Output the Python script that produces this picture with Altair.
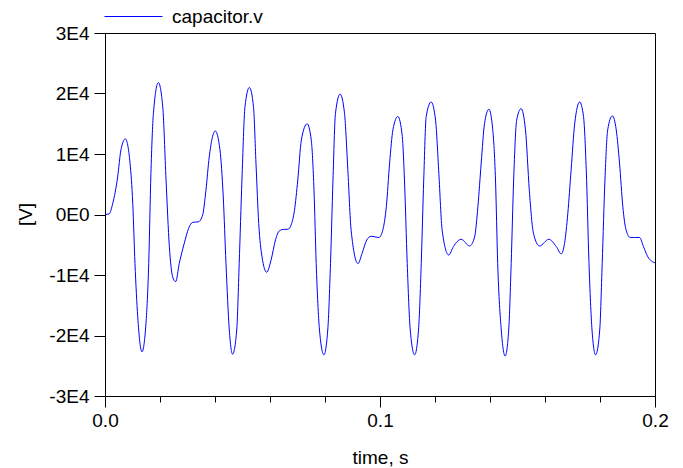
import altair as alt
import pandas as pd

time_s = [
    0.0000, 0.0015, 0.0028, 0.0046, 0.0058, 0.0074, 0.0091, 0.0101, 0.0109, 0.0119,
    0.01345, 0.0149, 0.0159, 0.0167, 0.0176, 0.0194, 0.0210, 0.0222, 0.0234, 0.0246,
    0.0257, 0.0270, 0.0288, 0.0304, 0.0319, 0.0340, 0.0355, 0.0367, 0.0379, 0.0401,
    0.0418, 0.0430, 0.0440, 0.0452, 0.0464, 0.0479, 0.0488, 0.0498, 0.0509, 0.0525,
    0.0540, 0.0549, 0.0559, 0.0571, 0.0588, 0.0604, 0.0620, 0.0634, 0.0652, 0.0665,
    0.0677, 0.0689, 0.0701, 0.0714, 0.0735, 0.0750, 0.0760, 0.0768, 0.0780, 0.0796,
    0.0810, 0.0820, 0.0829, 0.0838, 0.0855, 0.0871, 0.0883, 0.0895, 0.0920, 0.0935,
    0.0952, 0.0968, 0.0996, 0.1010, 0.1023, 0.1035, 0.1047, 0.1065, 0.1081, 0.1089,
    0.1099, 0.1110, 0.1126, 0.1140, 0.1150, 0.1159, 0.1168, 0.1186, 0.1202, 0.1214,
    0.1226, 0.1250, 0.1267, 0.1295, 0.1326, 0.1344, 0.1356, 0.1368, 0.1380, 0.1396,
    0.1410, 0.1420, 0.1428, 0.1441, 0.1455, 0.1468, 0.1477, 0.1486, 0.1497, 0.1513,
    0.1529, 0.1543, 0.1558, 0.1580, 0.1614, 0.1641, 0.1659, 0.1671, 0.1683, 0.1695,
    0.1708, 0.1726, 0.1740, 0.1750, 0.1760, 0.1771, 0.1784, 0.1799, 0.1808, 0.1818,
    0.1828, 0.1845, 0.1859, 0.1871, 0.1883, 0.1895, 0.1910, 0.1925, 0.1944, 0.1958,
    0.1974, 0.2000,
]

capacitor_v = [
    0, 100, 1800, 6200, 10700, 12500, 8500, 1800, -8100, -16900,
    -22700, -18000, -8100, 6800, 16700, 21800, 17800, 5700, -5300, -10300,
    -11100, -8100, -4800, -2300, -1300, -1200, -100, 4000, 9500, 13800,
    10700, 2900, -8100, -19100, -23100, -19100, -8100, 5700, 17800, 21000,
    17800, 8500, -1500, -7000, -9550, -7500, -4200, -2700, -2450, -2450,
    -1700, 700, 5700, 12300, 15000, 12300, 4000, -8100, -19100, -23200,
    -19100, -8100, 5700, 16700, 19900, 16700, 7400, -2600, -8100, -6400,
    -4200, -3600, -3800, -2600, 1300, 8500, 14000, 16200, 12900, 5700,
    -8100, -19100, -23200, -19100, -8100, 5700, 16200, 18600, 15600, 6800,
    -2600, -6700, -5300, -4100, -5200, -3700, 1300, 8500, 15000, 17400,
    14000, 5700, -8100, -19100, -23400, -19100, -8100, 5700, 15600, 17500,
    14000, 4000, -3100, -5200, -4100, -5300, -6500, -4800, 200, 7400,
    15000, 18600, 16200, 7400, -8100, -19100, -23200, -19100, -8100, 5700,
    14000, 16300, 14000, 8500, 1300, -2600, -3800, -3800, -3800, -5300,
    -7000, -8000,
]

series_name = "capacitor.v"
x_ticks = [0.0, 0.02, 0.04, 0.06, 0.08, 0.1, 0.12, 0.14, 0.16, 0.18, 0.2]
y_ticks = [-30000, -20000, -10000, 0, 10000, 20000, 30000]

df = pd.DataFrame({"time": time_s, "v": capacitor_v, "series": series_name})

FONT = "Liberation Sans"
FS = 19

major_test = "abs(datum.value * 10 - round(datum.value * 10)) < 1e-6"

chart = (
    alt.Chart(df)
    .mark_line(strokeWidth=1, interpolate="monotone")
    .encode(
        x=alt.X(
            "time:Q",
            scale=alt.Scale(domain=[0, 0.2], nice=False, zero=False),
            axis=alt.Axis(
                values=x_ticks,
                title="time, s",
                labelExpr=f"({major_test}) ? format(datum.value, '.1f') : ''",
                labelFlush=False,
                labelOverlap=False,
                tickSize={"condition": {"test": major_test, "value": 11}, "value": 6},
                labelPadding=4,
                titleX=275,
                titleY=67,
                titleBaseline="alphabetic",
                titleAlign="center",
                grid=False,
            ),
        ),
        y=alt.Y(
            "v:Q",
            scale=alt.Scale(domain=[-30000, 30000], nice=False),
            axis=alt.Axis(
                values=y_ticks,
                title="[V]",
                labelExpr="datum.value == 0 ? '0E0' : (datum.value < 0 ? '-' : '') + abs(round(datum.value / 10000)) + 'E4'",
                tickSize=11,
                labelPadding=5,
                titleX=-80,
                titleY=181,
                titleAngle=-90,
                titleAlign="center",
                titleBaseline="middle",
                grid=False,
            ),
        ),
        color=alt.Color(
            "series:N",
            scale=alt.Scale(domain=[series_name], range=["#0000ff"]),
            legend=alt.Legend(
                title=None,
                orient="none",
                legendX=-1,
                legendY=-46,
                symbolType="stroke",
                symbolSize=3364,
                symbolStrokeWidth=1,
                symbolStrokeColor="#0000ff",
                labelFontSize=FS,
                labelFont=FONT,
                labelColor="#000000",
                labelOffset=9,
                padding=0,
            ),
        ),
    )
    .properties(
        width=550,
        height=363,
        autosize=alt.AutoSizeParams(type="none"),
        padding={"left": 97, "top": 25, "right": 20, "bottom": 72},
        background="#ffffff",
    )
    .configure_view(stroke="#000000", strokeWidth=1)
    .configure_axis(
        labelFont=FONT,
        titleFont=FONT,
        labelFontSize=FS,
        titleFontSize=FS,
        titleFontWeight="normal",
        labelColor="#000000",
        titleColor="#000000",
        domainColor="#000000",
        tickColor="#000000",
        domainWidth=1,
        tickWidth=1,
    )
)

chart.save("out.html", embed_options={"renderer": "svg", "actions": False})
